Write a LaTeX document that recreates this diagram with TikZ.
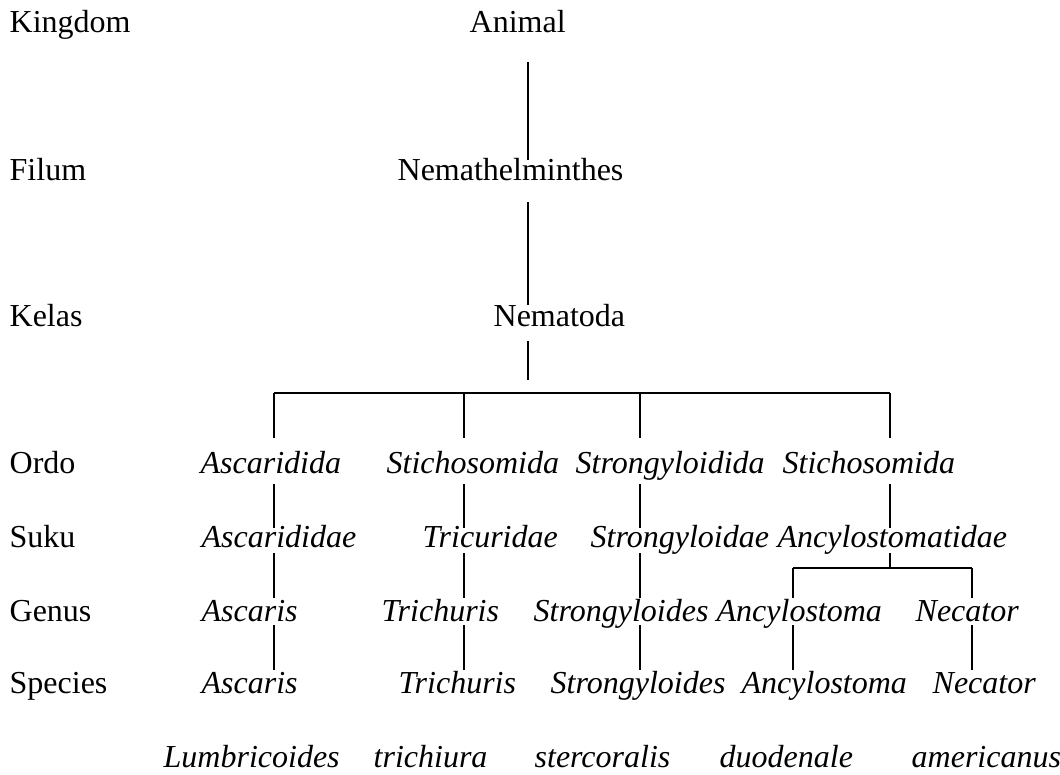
\documentclass[tikz,border=0pt]{standalone}
\usepackage{fontspec}
\setmainfont{Liberation Serif}
\usetikzlibrary{calc}

\tikzset{
    rank/.style={anchor=base west, inner sep=0pt},
    taxon/.style={anchor=base west, inner sep=0pt,
        font=\fontsize{12pt}{14pt}\selectfont\itshape},
    bus/.style={line width=0.8pt}
}

\begin{document}
\begin{tikzpicture}[x=0.375pt, y=-0.375pt, line width=0.5pt,
    font=\fontsize{12pt}{14pt}\selectfont]
    \useasboundingbox (0,0) rectangle (1060,774);

    \coordinate (T) at (528,62);
    \coordinate (C1) at (274,393);
    \coordinate (C2) at (464,393);
    \coordinate (C3) at (640,393);
    \coordinate (C4) at (890,393);
    \coordinate (G1) at (793,568);
    \coordinate (G2) at (972,568);

    % rank names
    \foreach \n/\y/\t in {kingdom/32/Kingdom, filum/180/Filum, kelas/326/Kelas,
        ordo/473/Ordo, suku/547/Suku, genus/621/Genus, species/693/Species}
    \node[rank] (\n) at (9,\y) {\t};

    \node[rank] (animal) at (469,32) {Animal};
    \node[rank] (nemat) at (397,180) {Nemathelminthes};
    \node[rank] (nematoda) at (493,326) {Nematoda};

    \foreach \n/\x/\t in {ord1/200/Ascaridida, ord2/386/Stichosomida,
        ord3/575/Strongyloidida, ord4/782/Stichosomida}
    \node[taxon] (\n) at (\x,473) {\t};

    \foreach \n/\x/\t in {suk1/201/Ascarididae, suk2/422/Tricuridae,
        suk3/590/Strongyloidae, suk4/777/Ancylostomatidae}
    \node[taxon] (\n) at (\x,547) {\t};

    \foreach \n/\x/\t in {gen1/201/Ascaris, gen2/381/Trichuris,
        gen3/533/Strongyloides, gen4/716/Ancylostoma, gen5/915/Necator}
    \node[taxon] (\n) at (\x,621) {\t};

    \foreach \n/\x/\t in {spc1/201/Ascaris, spc2/398/Trichuris,
        spc3/550/Strongyloides, spc4/741/Ancylostoma, spc5/932/Necator}
    \node[taxon] (\n) at (\x,693) {\t};

    \foreach \n/\x/\t in {epi1/163/Lumbricoides, epi2/373/trichiura,
        epi3/534/stercoralis, epi4/719/duodenale, epi5/911/americanus}
    \node[taxon] (\n) at (\x,767) {\t};

    % trunk
    \draw (T) -- ++(0,98);
    \draw (T) ++(0,140) -- ++(0,103);
    \draw (T) ++(0,279) -- ++(0,39);

    \draw[bus] (C1) -- (C4);
    \foreach \c in {C1, C2, C3, C4} {
        \draw (\c) -- ++(0,45);
        \draw (\c) ++(0,91) -- ++(0,44);
    }
    \foreach \c in {C1, C2, C3} {
        \draw (\c) ++(0,160) -- ++(0,45);
        \draw (\c) ++(0,232) -- ++(0,45);
    }

    % Ancylostomatidae branch
    \draw (C4) ++(0,160) -- (C4 |- G1);
    \draw[bus] (G1) -- (G2);
    \foreach \g in {G1, G2} {
        \draw (\g) -- ++(0,30);
        \draw (\g) ++(0,57) -- ++(0,45);
    }
\end{tikzpicture}
\end{document}
